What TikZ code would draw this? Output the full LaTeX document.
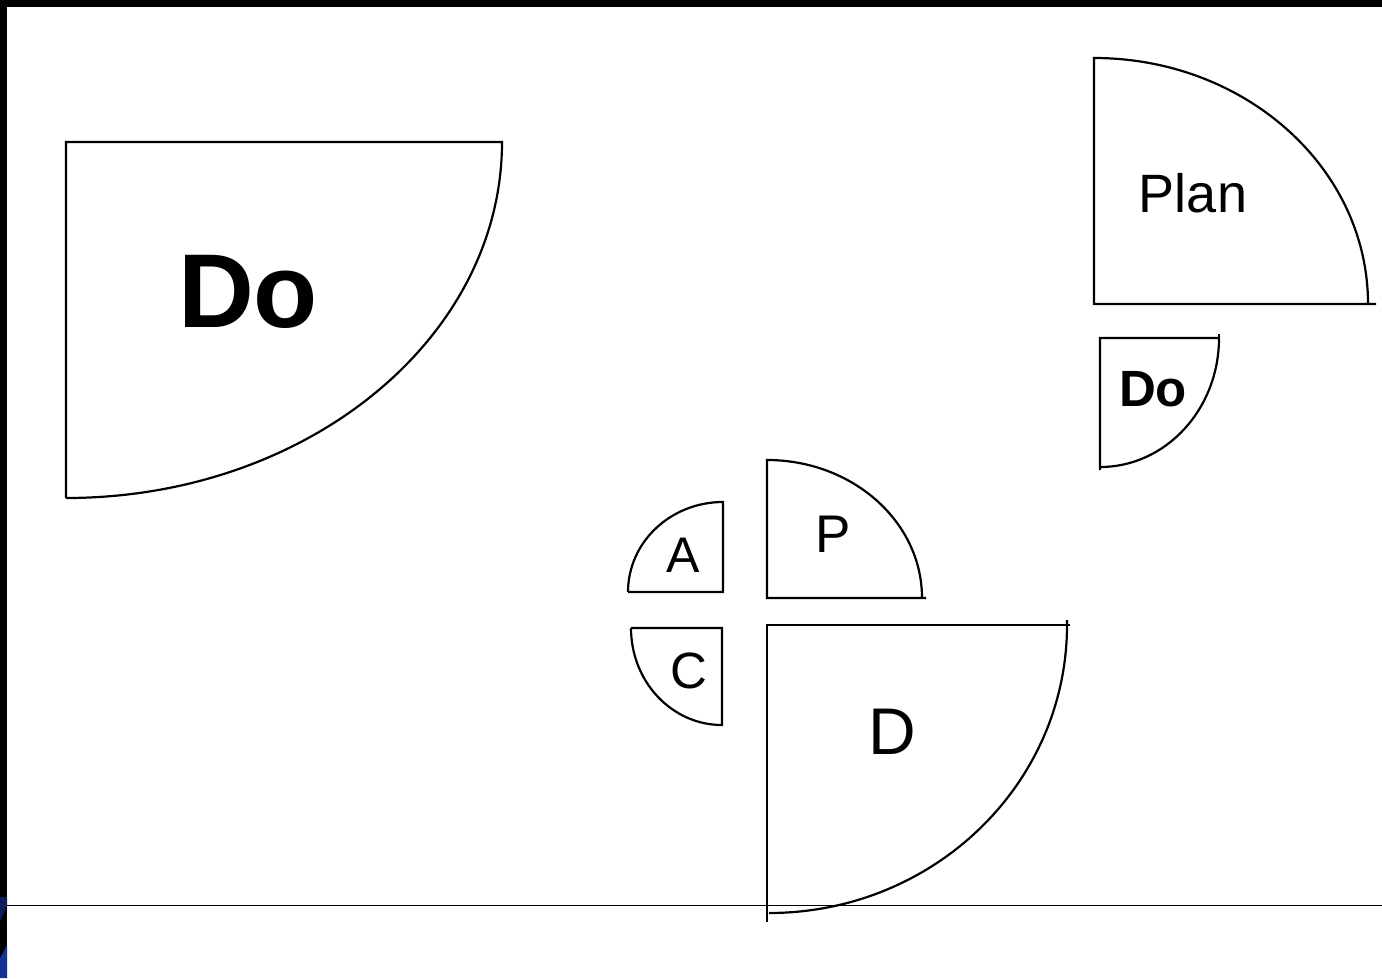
\documentclass[tikz,border=0pt]{standalone}
\usepackage{fontspec}
\setmainfont{Liberation Sans}
\definecolor{navy}{RGB}{10,30,90}
\definecolor{bblue}{RGB}{20,50,150}
\begin{document}
\begin{tikzpicture}[x=1pt,y=-1pt,
  sector/.style={draw=black,line width=2.2pt,line join=miter},
  lbl/.style={inner sep=0pt,text=black}]
\useasboundingbox (0,0) rectangle (1382,978);
\fill[white] (0,0) rectangle (1382,978);
% frame
\fill[black] (0,0) rectangle (1382,7);
\fill[black] (0,0) rectangle (7,978);
\fill[navy] (0,897) -- (7,897) -- (7,905) -- (0,922) -- cycle;
\fill[bblue] (0,958) -- (7,945) -- (7,978) -- (0,978) -- cycle;
% baseline rule
\draw[line width=1pt,black] (7,905) -- (1382,905);
% big Do
\draw[sector] (66,498) -- (66,142) -- (502,142) arc[start angle=0,end angle=90,x radius=436,y radius=356];
\node[lbl,font=\bfseries\fontsize{105}{105}\selectfont] (bigdo) at (248,292) {Do};
% Plan
\draw[sector] (1376,304) -- (1094,304) -- (1094,58) arc[start angle=-90,end angle=0,x radius=274,y radius=246];
\node[lbl,font=\fontsize{54}{54}\selectfont] (plan) at (1193,193) {Plan};
% small Do
\draw[sector] (1100,470) -- (1100,338) -- (1219,338) arc[start angle=0,end angle=90,x radius=119,y radius=129];
\draw[sector] (1219,334) -- (1219,338);
\node[lbl,font=\bfseries\fontsize{51}{51}\selectfont] (smalldo) at (1153,389) {Do};
% A
\draw[sector] (628,592) -- (723,592) -- (723,502) arc[start angle=-90,end angle=-180,x radius=95,y radius=90];
\node[lbl,font=\fontsize{50}{50}\selectfont] (a) at (683,555) {A};
% P
\draw[sector] (926,598) -- (767,598) -- (767,460) arc[start angle=-90,end angle=0,x radius=155,y radius=138];
\node[lbl,font=\fontsize{53}{53}\selectfont] (p) at (833,534) {P};
% C
\draw[sector] (631,628) -- (722,628) -- (722,725) arc[start angle=90,end angle=180,x radius=91,y radius=97];
\node[lbl,font=\fontsize{51}{51}\selectfont] (c) at (689,671) {C};
% D
\draw[sector] (767,922) -- (767,625) -- (1070,625);
\draw[sector] (1067,620) -- (1067,625) arc[start angle=0,end angle=90,x radius=298,y radius=288];
\node[lbl,font=\fontsize{66}{66}\selectfont] (d) at (892,732) {D};
\end{tikzpicture}
\end{document}
